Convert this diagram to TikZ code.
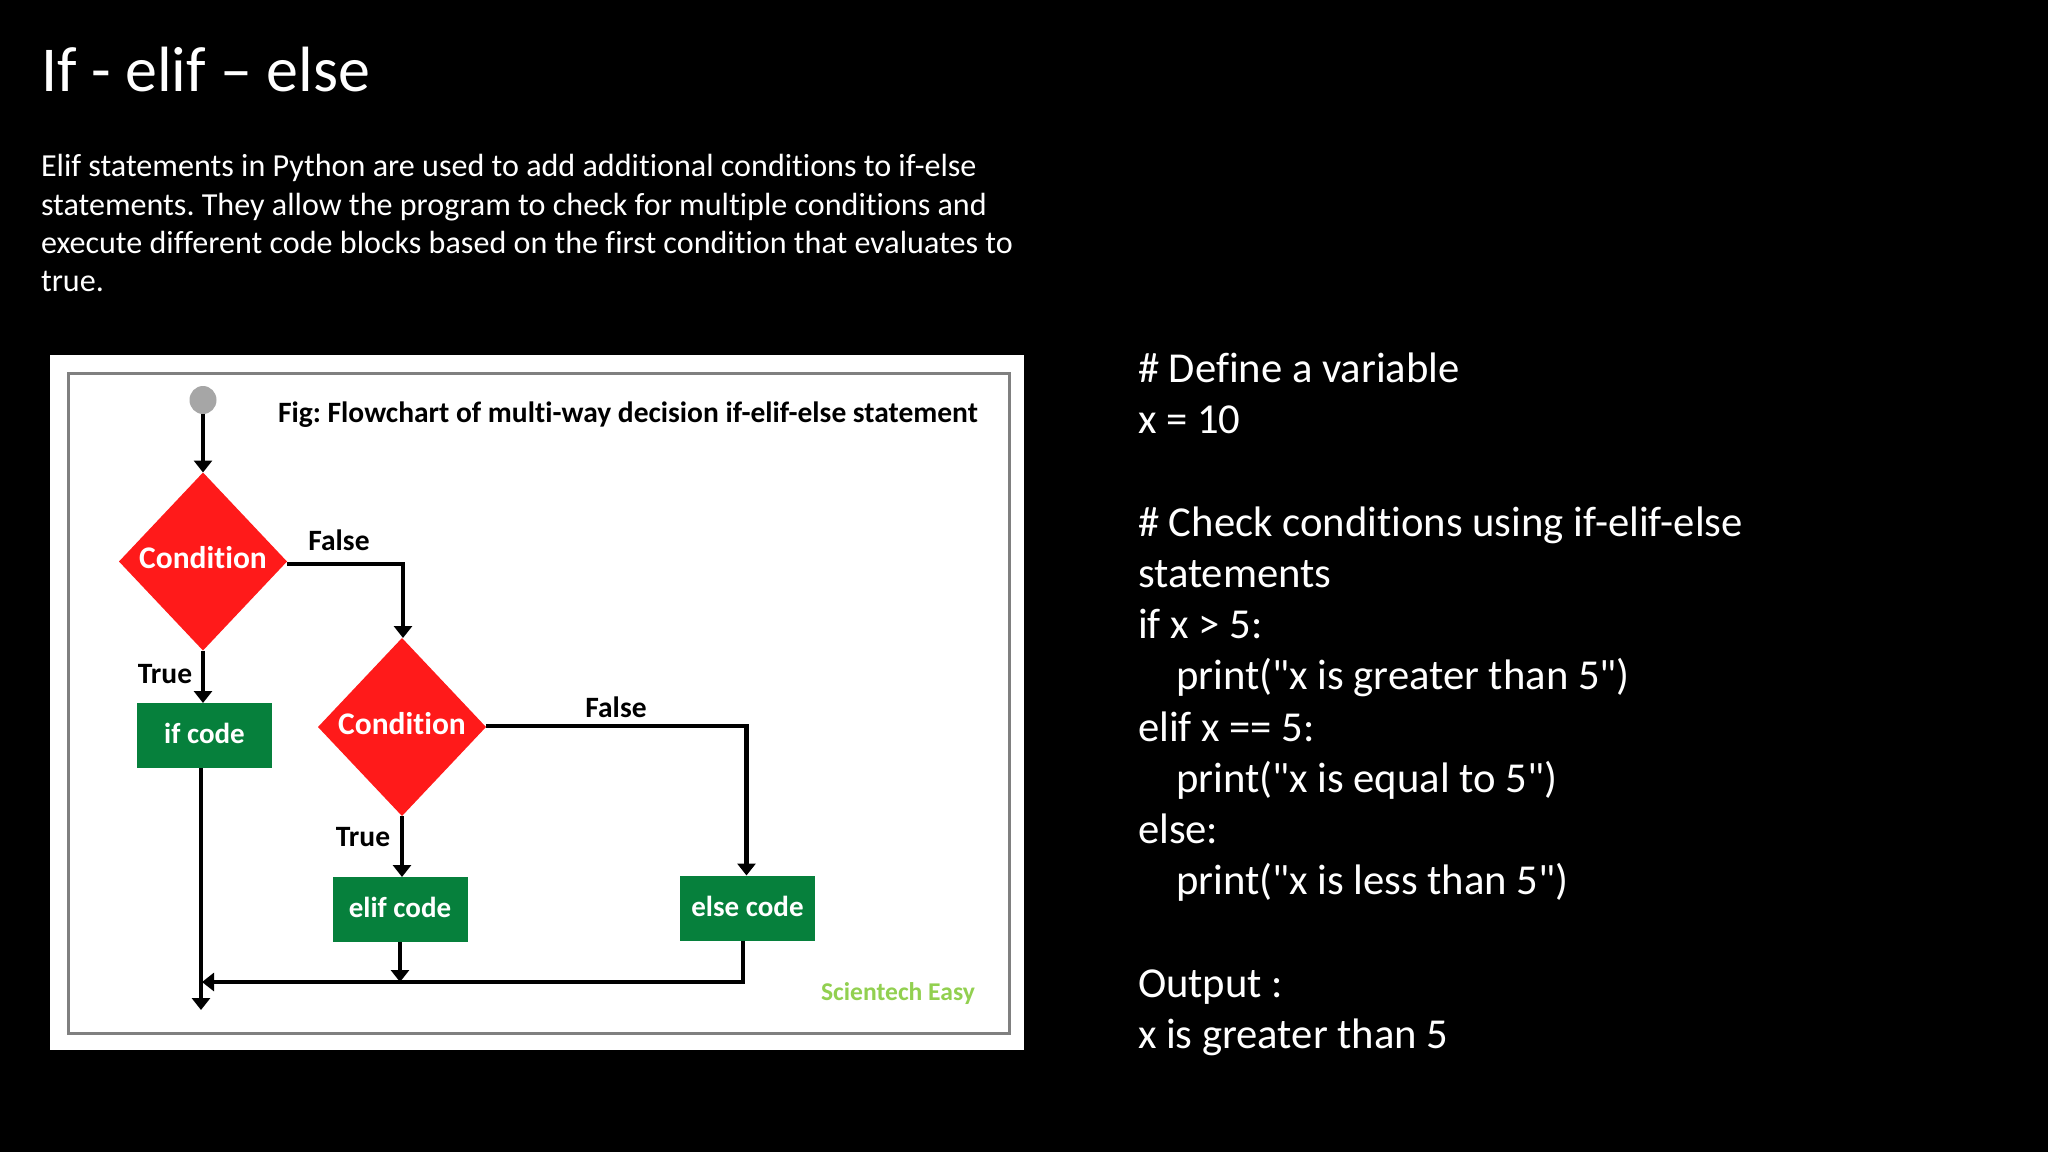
\documentclass[tikz,border=0pt]{standalone}
\usepackage{fontspec}
\setmainfont{Carlito}[Ligatures=NoCommon]
\newfontfamily\plainfont{Carlito}[Ligatures=NoCommon]
\frenchspacing
\usetikzlibrary{arrows.meta,shapes.geometric}
\definecolor{panelframe}{HTML}{808080}
\definecolor{dred}{HTML}{FF1A1A}
\definecolor{bgreen}{HTML}{06803C}
\definecolor{sgreen}{HTML}{92D050}
\definecolor{startgrey}{HTML}{A6A6A6}
\newcommand{\fs}[2]{\fontsize{#1pt}{#2pt}\selectfont}
\tikzset{
  x=1pt,y=-1pt,
  slidetext/.style={text=white,anchor=north west,align=left,inner sep=0pt,outer sep=0pt},
  cond/.style={shape=diamond,fill=dred,inner sep=0pt,outer sep=0pt,minimum width=168pt,minimum height=178pt,text=white,font=\bfseries\fs{31.5}{36},text depth=8pt},
  codebox/.style={fill=bgreen,inner sep=0pt,outer sep=0pt,minimum width=135pt,minimum height=65pt,text=white,font=\bfseries\fs{29}{32},text depth=4pt},
  lab/.style={text=black,font=\bfseries\fs{29.5}{32},inner sep=0pt,outer sep=0pt},
  conn/.style={line width=4.2pt,draw=black,-{Triangle[width=18pt,length=12pt]}},
}
\begin{document}
\begin{tikzpicture}
\useasboundingbox (0,0) rectangle (2048,1152);
\fill[black] (0,0) rectangle (2048,1152);
\node[slidetext,font=\fs{64}{70}] (title) at (41,47) {If - elif – else};
\node[slidetext,font=\fs{32.1}{38.3}] (intro) at (41,154.5) {Elif statements in Python are used to add additional conditions to if-else\\statements. They allow the program to check for multiple conditions and\\execute different code blocks based on the first condition that evaluates to\\true.};
\node[slidetext,font=\plainfont\fs{42.67}{51.2}] (code) at (1138,353) {\# Define a variable\\x = 10\\[51.2pt]\# Check conditions using if-elif-else\\statements\\if x > 5:\\\hspace*{38pt}print("x is greater than 5")\\elif x == 5:\\\hspace*{38pt}print("x is equal to 5")\\else:\\\hspace*{38pt}print("x is less than 5")\\[51.2pt]Output :\\x is greater than 5};
\fill[white] (50,355) rectangle (1024,1050);
\draw[panelframe,line width=3pt] (68,373) rectangle (1009,1033);
\node[fill=startgrey,ellipse,inner sep=0pt,minimum width=27pt,minimum height=28pt] (start) at (203,400) {};
\node[cond] (d1) at (203,561.5) {Condition};
\node[cond] (d2) at (402,727) {Condition};
\node[codebox] (ifc) at (204.5,735.5) {if code};
\node[codebox] (elifc) at (400,909.5) {elif code};
\node[codebox] (elsec) at (747.5,908) {else code};
\node[font=\bfseries\fs{29.5}{32},text=black,inner sep=0pt] (ftitle) at (628,415) {Fig: Flowchart of multi-way decision if-elif-else statement};
\node[lab] (f1) at (339,540.5) {False};
\node[lab] (t1) at (165,674) {True};
\node[lab] (f2) at (616,707.5) {False};
\node[lab] (t2) at (363,837) {True};
\node[font=\bfseries\fs{25.6}{28},text=sgreen,inner sep=0pt] (brand) at (898,994) {Scientech Easy};
\coordinate (c1) at (403,564);
\coordinate (c2) at (746.5,726);
\coordinate (c3) at (743,982);
\coordinate (j1) at (202,982);
\coordinate (end) at (201,1010);
\draw[conn] (start.south) -- (d1.north);
\draw[conn] (d1.east |- c1) -- (c1) -- (d2.north -| c1);
\draw[conn] (d1.south) -- (d1.south |- ifc.north);
\draw[conn] (d2.east |- c2) -- (c2) -- (c2 |- elsec.north);
\draw[conn] (d2.south) -- (d2.south |- elifc.north);
\draw[conn] (ifc.south -| end) -- (end);
\draw[conn] (elifc.south) -- (elifc.south |- c3);
\draw[conn] (c3 |- elsec.south) -- (c3) -- (j1);
\end{tikzpicture}
\end{document}
